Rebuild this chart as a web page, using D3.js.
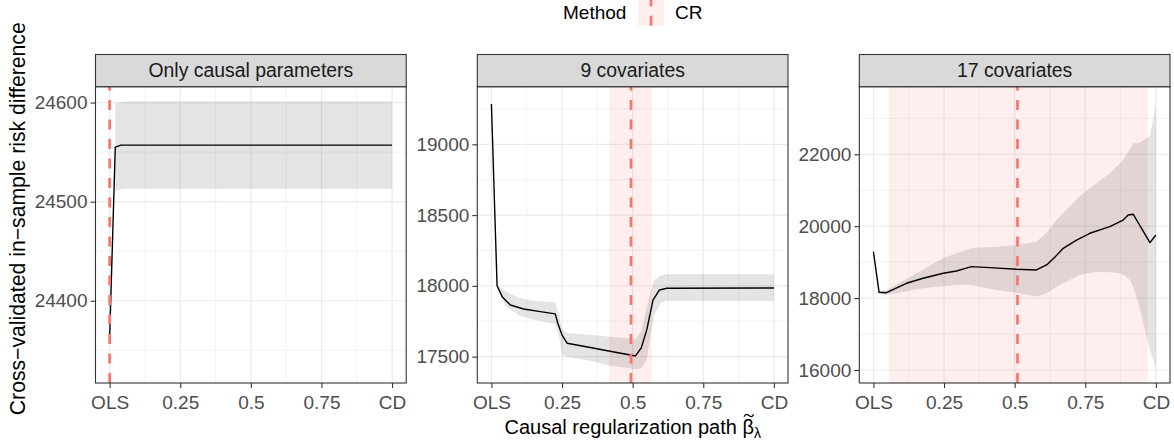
<!DOCTYPE html>
<html><head><meta charset="utf-8">
<script src="https://cdn.jsdelivr.net/npm/d3@7"></script>
<style>
html,body{margin:0;padding:0;background:#fff;}
svg{display:block;font-family:"Liberation Sans",Arial,Helvetica,sans-serif;}
</style></head>
<body><svg id="chart" width="1174" height="444"></svg>
<script>
// ---------- data ----------
const panelTitles = ["Only causal parameters", "9 covariates", "17 covariates"];
const xTicks = [0, 0.25, 0.5, 0.75, 1];
const xTickLabels = ["OLS", "0.25", "0.5", "0.75", "CD"];

// Panel 1: only causal parameters
const p1LineX = [0, 0.02, 0.04, 0.1, 0.5, 1];
const p1LineY = [24362, 24555, 24557, 24557, 24557, 24557];
const p1RibX  = [0.02, 0.05, 0.5, 1];
const p1RibLo = [24511, 24513, 24513, 24513];
const p1RibHi = [24599, 24601, 24601, 24601];
const p1YLim = [24317, 24616];
const p1YTicks = [24400, 24500, 24600];
const p1Band = [0, 0];
const p1CR = 0;

// Panel 2: 9 covariates
const p2LineX = [0, 0.02, 0.038, 0.067, 0.114, 0.173, 0.226, 0.235, 0.25, 0.268, 0.35, 0.42, 0.492, 0.51, 0.53, 0.55, 0.572, 0.595, 0.621, 1];
const p2LineY = [19285, 18001, 17924, 17865, 17837, 17818, 17802, 17736, 17653, 17595, 17565, 17538, 17512, 17505, 17560, 17689, 17900, 17971, 17983, 17985];
const p2RibX  = [0.02, 0.05, 0.1, 0.15, 0.226, 0.24, 0.25, 0.27, 0.35, 0.42, 0.49, 0.51, 0.53, 0.55, 0.575, 0.6, 0.62, 1];
const p2RibLo = [17990, 17860, 17790, 17760, 17730, 17640, 17510, 17500, 17470, 17435, 17418, 17410, 17420, 17478, 17790, 17880, 17893, 17893];
const p2RibHi = [18010, 17960, 17915, 17895, 17884, 17790, 17690, 17665, 17655, 17640, 17628, 17622, 17680, 17850, 18040, 18075, 18082, 18082];
const p2YLim = [17314, 19407];
const p2YTicks = [17500, 18000, 18500, 19000];
const p2Band = [0.417, 0.568];
const p2CR = 0.494;

// Panel 3: 17 covariates
const p3LineX = [0, 0.02, 0.046, 0.117, 0.176, 0.247, 0.294, 0.347, 0.412, 0.507, 0.577, 0.613, 0.645, 0.672, 0.719, 0.766, 0.837, 0.884, 0.902, 0.92, 0.979, 1];
const p3LineY = [19291, 18161, 18150, 18412, 18551, 18690, 18754, 18874, 18846, 18801, 18782, 18921, 19160, 19385, 19613, 19803, 19986, 20172, 20312, 20331, 19541, 19755];
const p3RibX  = [0.02, 0.046, 0.176, 0.247, 0.294, 0.347, 0.436, 0.507, 0.577, 0.61, 0.648, 0.73, 0.79, 0.837, 0.873, 0.884, 0.908, 0.92, 0.938, 0.973, 0.979, 1];
const p3RibLo = [18120, 18086, 18273, 18330, 18364, 18364, 18225, 18150, 18045, 18120, 18317, 18643, 18735, 18720, 18690, 18650, 18503, 18300, 17855, 16743, 16550, 16047];
const p3RibHi = [18200, 18225, 18798, 19107, 19250, 19390, 19430, 19477, 19569, 19800, 20172, 20830, 21200, 21471, 21750, 21841, 22150, 22306, 22306, 22473, 22500, 23419];
const p3YLim = [15638, 23880];
const p3YTicks = [16000, 18000, 20000, 22000];
const p3Band = [0.054, 0.971];
const p3CR = 0.51;

const legendTitle = "Method";
const legendLabel = "CR";
const xTitle = "Causal regularization path ";
const xTitleSymbol = "\u03B2";
const xTitleSub = "\u03BB";
const yTitle = "Cross\u2212validated in\u2212sample risk difference";

// ---------- layout ----------
const panels = [
  {title: panelTitles[0], lx: p1LineX, ly: p1LineY, rx: p1RibX, rlo: p1RibLo, rhi: p1RibHi, ylim: p1YLim, yt: p1YTicks, band: p1Band, cr: p1CR},
  {title: panelTitles[1], lx: p2LineX, ly: p2LineY, rx: p2RibX, rlo: p2RibLo, rhi: p2RibHi, ylim: p2YLim, yt: p2YTicks, band: p2Band, cr: p2CR},
  {title: panelTitles[2], lx: p3LineX, ly: p3LineY, rx: p3RibX, rlo: p3RibLo, rhi: p3RibHi, ylim: p3YLim, yt: p3YTicks, band: p3Band, cr: p3CR}
];
const lefts = [95.5, 477.3, 859.3];
const pw = 310.7;
const stripTop = 54.5, panelTop = 86.7, panelBottom = 383;
const RED = "#F8766D";
const BAND = "rgba(248,118,109,0.12)";
const RIB = "rgba(0,0,0,0.105)";
const GRID = "#EBEBEB";
const FONT_TICK = 19, FONT_STRIP = 19.4, FONT_TITLE = 20, FONT_YTITLE = 21.2;

const svg = d3.select("#chart");

panels.forEach((p, i) => {
  const x = d3.scaleLinear().domain([-0.05, 1.05]).range([lefts[i], lefts[i] + pw]);
  const y = d3.scaleLinear().domain(p.ylim).range([panelBottom, panelTop]);
  const g = svg.append("g");
  const clipId = "clip" + i;
  g.append("clipPath").attr("id", clipId).append("rect")
    .attr("x", lefts[i]).attr("y", panelTop).attr("width", pw).attr("height", panelBottom - panelTop);

  g.append("rect").attr("x", lefts[i]).attr("y", panelTop).attr("width", pw).attr("height", panelBottom - panelTop).attr("fill", "#fff");

  const xMinor = xTicks.slice(0, -1).map((t, k) => (t + xTicks[k + 1]) / 2);
  const ystep = p.yt[1] - p.yt[0];
  const yMinor = [p.yt[0] - ystep / 2].concat(p.yt.map(t => t + ystep / 2)).filter(v => v > p.ylim[0] && v < p.ylim[1]);
  const grid = g.append("g").attr("clip-path", `url(#${clipId})`);
  grid.selectAll("line.xmin").data(xMinor).join("line")
    .attr("x1", d => x(d)).attr("x2", d => x(d)).attr("y1", panelTop).attr("y2", panelBottom)
    .attr("stroke", GRID).attr("stroke-width", 0.6);
  grid.selectAll("line.ymin").data(yMinor).join("line")
    .attr("x1", lefts[i]).attr("x2", lefts[i] + pw).attr("y1", d => y(d)).attr("y2", d => y(d))
    .attr("stroke", GRID).attr("stroke-width", 0.6);
  grid.selectAll("line.xmaj").data(xTicks).join("line")
    .attr("x1", d => x(d)).attr("x2", d => x(d)).attr("y1", panelTop).attr("y2", panelBottom)
    .attr("stroke", GRID).attr("stroke-width", 1.2);
  grid.selectAll("line.ymaj").data(p.yt).join("line")
    .attr("x1", lefts[i]).attr("x2", lefts[i] + pw).attr("y1", d => y(d)).attr("y2", d => y(d))
    .attr("stroke", GRID).attr("stroke-width", 1.2);

  const plot = g.append("g").attr("clip-path", `url(#${clipId})`);
  plot.append("rect").attr("x", x(p.band[0])).attr("width", Math.max(0, x(p.band[1]) - x(p.band[0])))
    .attr("y", panelTop).attr("height", panelBottom - panelTop).attr("fill", BAND);
  const rib = p.rx.map((v, k) => ({x: v, lo: p.rlo[k], hi: p.rhi[k]}));
  plot.append("path").datum(rib)
    .attr("d", d3.area().x(d => x(d.x)).y0(d => y(d.lo)).y1(d => y(d.hi)))
    .attr("fill", RIB);
  const ln = p.lx.map((v, k) => ({x: v, y: p.ly[k]}));
  plot.append("path").datum(ln)
    .attr("d", d3.line().x(d => x(d.x)).y(d => y(d.y)))
    .attr("fill", "none").attr("stroke", "#000").attr("stroke-width", 1.4).attr("stroke-linejoin", "round");
  plot.append("line").attr("x1", x(p.cr)).attr("x2", x(p.cr)).attr("y1", panelBottom).attr("y2", panelTop)
    .attr("stroke", RED).attr("stroke-width", 2.7).attr("stroke-dasharray", "10,9.5");

  g.append("rect").attr("x", lefts[i]).attr("y", panelTop).attr("width", pw).attr("height", panelBottom - panelTop)
    .attr("fill", "none").attr("stroke", "#333333").attr("stroke-width", 1.1);

  g.append("rect").attr("x", lefts[i]).attr("y", stripTop).attr("width", pw).attr("height", panelTop - stripTop)
    .attr("fill", "#D9D9D9").attr("stroke", "#333333").attr("stroke-width", 1.1);
  g.append("text").attr("x", lefts[i] + pw / 2).attr("y", (stripTop + panelTop) / 2).attr("dy", "0.35em")
    .attr("text-anchor", "middle").attr("font-size", FONT_STRIP).attr("fill", "#1A1A1A").text(p.title);

  const xa = g.append("g").attr("transform", `translate(0,${panelBottom})`)
    .call(d3.axisBottom(x).tickValues(xTicks).tickFormat((d, k) => xTickLabels[k]).tickSize(5).tickPadding(4));
  const ya = g.append("g").attr("transform", `translate(${lefts[i]},0)`)
    .call(d3.axisLeft(y).tickValues(p.yt).tickFormat(d3.format("d")).tickSize(5).tickPadding(3));
  [xa, ya].forEach(a => {
    a.select(".domain").remove();
    a.selectAll(".tick line").attr("stroke", "#333333").attr("stroke-width", 1.1);
    a.selectAll(".tick text").attr("fill", "#4D4D4D").attr("font-size", FONT_TICK)
      .attr("font-family", "'Liberation Sans',Arial,Helvetica,sans-serif");
  });
  xa.selectAll(".tick text").attr("dy", "0.92em");
});

// x axis title with beta-tilde and subscript lambda
const xt = svg.append("text").attr("x", (lefts[0] + lefts[2] + pw) / 2).attr("y", 434.3)
  .attr("text-anchor", "middle").attr("font-size", FONT_TITLE).attr("fill", "#000");
xt.append("tspan").text(xTitle);
xt.append("tspan").text(xTitleSymbol);
xt.append("tspan").attr("font-size", FONT_TITLE * 0.7).attr("dy", 4).text(xTitleSub);
const ext = xt.node().getExtentOfChar(xTitle.length);
const cx = ext.x + ext.width / 2 + 0.6, cy = 415.5;
const tp = d3.path();
tp.moveTo(cx - 4.8, cy + 1.3);
tp.bezierCurveTo(cx - 3, cy - 2.6, cx - 1, cy - 0.8, cx, cy);
tp.bezierCurveTo(cx + 1, cy + 0.8, cx + 3, cy + 2.6, cx + 4.8, cy - 1.3);
svg.append("path").attr("d", tp.toString()).attr("fill", "none").attr("stroke", "#000").attr("stroke-width", 1.3);

// y axis title
svg.append("text").attr("transform", `translate(25,${(stripTop + panelBottom) / 2}) rotate(-90)`)
  .attr("text-anchor", "middle").attr("font-size", FONT_YTITLE).attr("fill", "#000").text(yTitle);

// legend
const lg = svg.append("g");
lg.append("text").attr("x", 563).attr("y", 19.3).attr("font-size", 19).attr("fill", "#000").text(legendTitle);
lg.append("rect").attr("x", 638).attr("y", 0).attr("width", 26).attr("height", 25.7).attr("fill", BAND);
lg.append("line").attr("x1", 651).attr("x2", 651).attr("y1", 25.7).attr("y2", 0)
  .attr("stroke", RED).attr("stroke-width", 2.7).attr("stroke-dasharray", "10,9.5");
lg.append("text").attr("x", 675).attr("y", 19.3).attr("font-size", 19).attr("fill", "#000").text(legendLabel);
</script></body></html>
